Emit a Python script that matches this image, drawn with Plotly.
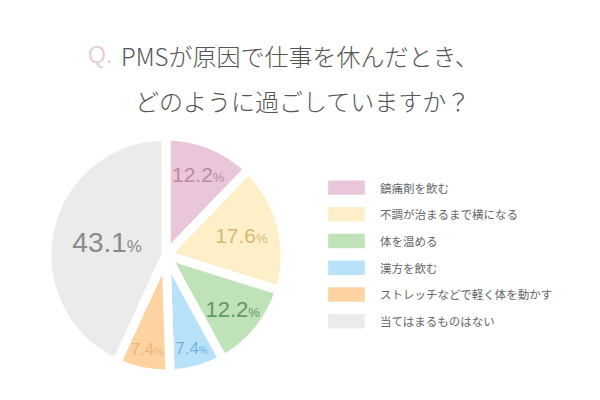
import plotly.graph_objects as go

# data
labels = ['鎮痛剤を飲む', '不調が治まるまで横になる', '体を温める', '漢方を飲む',
          'ストレッチなどで軽く体を動かす', '当てはまるものはない']
values = [12.2, 17.6, 12.2, 7.4, 7.4, 43.1]

slice_colors = ['#e9c6da', '#fdf0c8', '#c0e2b8', '#b8e2f9', '#fdd3a2', '#ebebeb']
text_colors = ['#b98aa3', '#d8b874', '#5f9a61', '#74b2dd', '#ebb47d', '#8a8a8a']
text_sizes = [21, 21, 22, 17, 17, 28]

title_1 = 'PMSが原因で仕事を休んだとき、'
title_2 = 'どのように過ごしていますか？'

jp_font = 'Noto Sans CJK JP'
num_font = 'Liberation Sans'

pie_text = [
    f'{v}<span style="font-size:{int(s * 0.62)}px">%</span>'
    for v, s in zip(values, text_sizes)
]

fig = go.Figure()

fig.add_trace(go.Pie(
    labels=labels,
    values=values,
    sort=False,
    direction='clockwise',
    rotation=0,
    text=pie_text,
    textinfo='text',
    textposition='inside',
    insidetextorientation='horizontal',
    textfont=dict(family=num_font, size=text_sizes, color=text_colors),
    marker=dict(colors=slice_colors, line=dict(color='white', width=9)),
    domain=dict(x=[0.0783, 0.475], y=[0.065, 0.66]),
    showlegend=False,
    hoverinfo='label+percent',
))

# legend drawn by hand: wide colour boxes like the original
leg_top = 0.531
leg_step = 0.0668
for i, (lab, col) in enumerate(zip(labels, slice_colors)):
    yc = leg_top - i * leg_step
    fig.add_shape(type='rect', xref='paper', yref='paper',
                  x0=0.547, x1=0.608, y0=yc - 0.018, y1=yc + 0.018,
                  fillcolor=col, line_width=0)
    fig.add_annotation(x=0.630, y=yc, xref='paper', yref='paper',
                       text=lab, showarrow=False, xanchor='left', yanchor='middle',
                       font=dict(family=jp_font, size=11.5, color='#666666'))

# title
fig.add_annotation(x=0.143, y=0.862, xref='paper', yref='paper',
                   text='Q.', showarrow=False, xanchor='left', yanchor='middle',
                   font=dict(family=num_font, size=23, color='#e8cdd6'))
fig.add_annotation(x=0.198, y=0.862, xref='paper', yref='paper',
                   text=title_1, showarrow=False, xanchor='left', yanchor='middle',
                   font=dict(family=jp_font, size=24, color='#555555', weight=300))
fig.add_annotation(x=0.221, y=0.75, xref='paper', yref='paper',
                   text=title_2, showarrow=False, xanchor='left', yanchor='middle',
                   font=dict(family=jp_font, size=24, color='#555555', weight=300))

fig.update_layout(
    width=600, height=400,
    margin=dict(l=0, r=0, t=0, b=0),
    paper_bgcolor='white',
    plot_bgcolor='white',
)

# page body has an 8px margin by default, drop it so the figure sits at 0,0
fig.write_html('out.html', config={'displayModeBar': False},
               post_script="document.body.style.margin='0';")
